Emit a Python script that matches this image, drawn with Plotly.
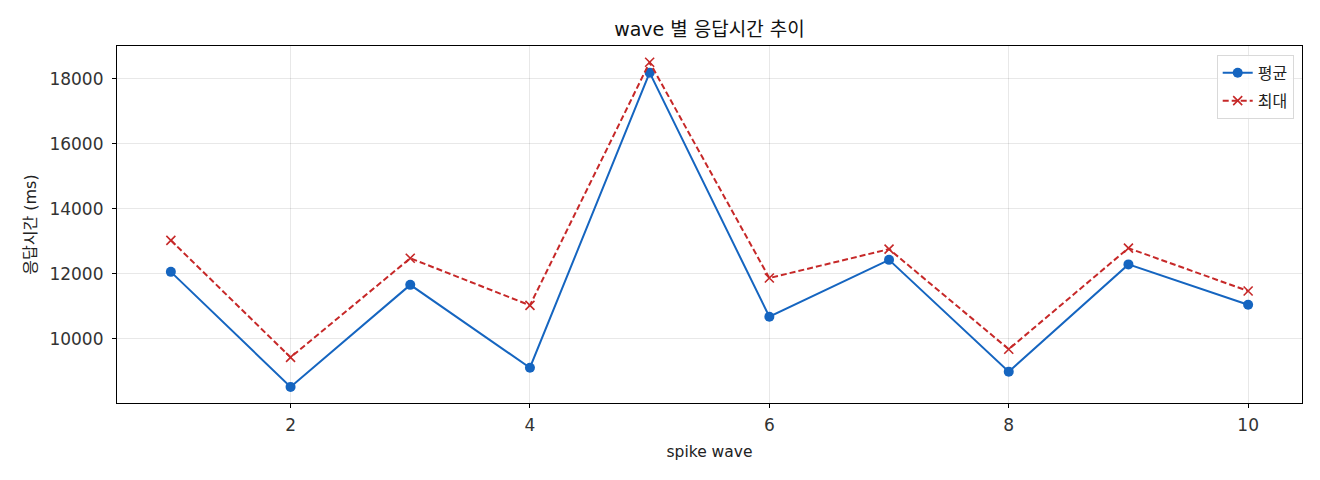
import plotly.graph_objects as go

waves = [1, 2, 3, 4, 5, 6, 7, 8, 9, 10]
avg_ms = [12060, 8520, 11660, 9110, 18190, 10680, 12430, 8990, 12290, 11050]
max_ms = [13030, 9430, 12480, 11030, 18510, 11870, 12760, 9680, 12790, 11470]

FONT = "DejaVu Sans, Noto Sans CJK KR"

fig = go.Figure()

# 평균
fig.add_trace(go.Scatter(
    x=waves, y=avg_ms, name="평균", mode="lines+markers",
    line=dict(color="#1565C0", width=2),
    marker=dict(symbol="circle", size=10, color="#1565C0"),
    legendgroup="avg",
))

# 최대
fig.add_trace(go.Scatter(
    x=waves, y=max_ms, name="최대", mode="lines+markers",
    line=dict(color="#C62828", width=2, dash="6px,3px"),
    marker=dict(symbol="x-thin", size=9, line=dict(color="#C62828", width=1.6)),
    legendgroup="max",
))

axis_common = dict(
    showline=True, linecolor="black", linewidth=1.2, mirror=True,
    ticks="outside", ticklen=4, tickcolor="black",
    showgrid=True, gridcolor="rgba(0,0,0,0.09)", gridwidth=1,
    zeroline=False, tickfont=dict(size=17, color="#333"),
)

fig.update_xaxes(
    range=[0.55, 10.45], tickvals=[2, 4, 6, 8, 10], ticklabelstandoff=2,
    title=dict(text="spike wave", font=dict(size=15.5, color="#222"), standoff=12),
    **axis_common,
)
fig.update_yaxes(
    range=[8025, 19010], tickvals=[10000, 12000, 14000, 16000, 18000],
    tickformat="d", ticklabelstandoff=5,
    title=dict(text="응답시간 (ms)", font=dict(size=16, color="#222"), standoff=8),
    **axis_common,
)

fig.update_layout(
    width=1312, height=472,
    margin=dict(l=109, r=18, t=38, b=77),
    paper_bgcolor="white", plot_bgcolor="white",
    font=dict(family=FONT, color="#222"),
    title=dict(text="wave 별 응답시간 추이", xref="paper", x=0.5, xanchor="center",
               y=0.955, yanchor="middle", font=dict(size=19, color="#111")),
    legend=dict(
        x=0.993, y=0.975, xanchor="right", yanchor="top",
        bgcolor="rgba(255,255,255,0.8)", bordercolor="#d9d9d9", borderwidth=1,
        font=dict(size=16), tracegroupgap=4,
    ),
)

fig.write_html("out.html")
